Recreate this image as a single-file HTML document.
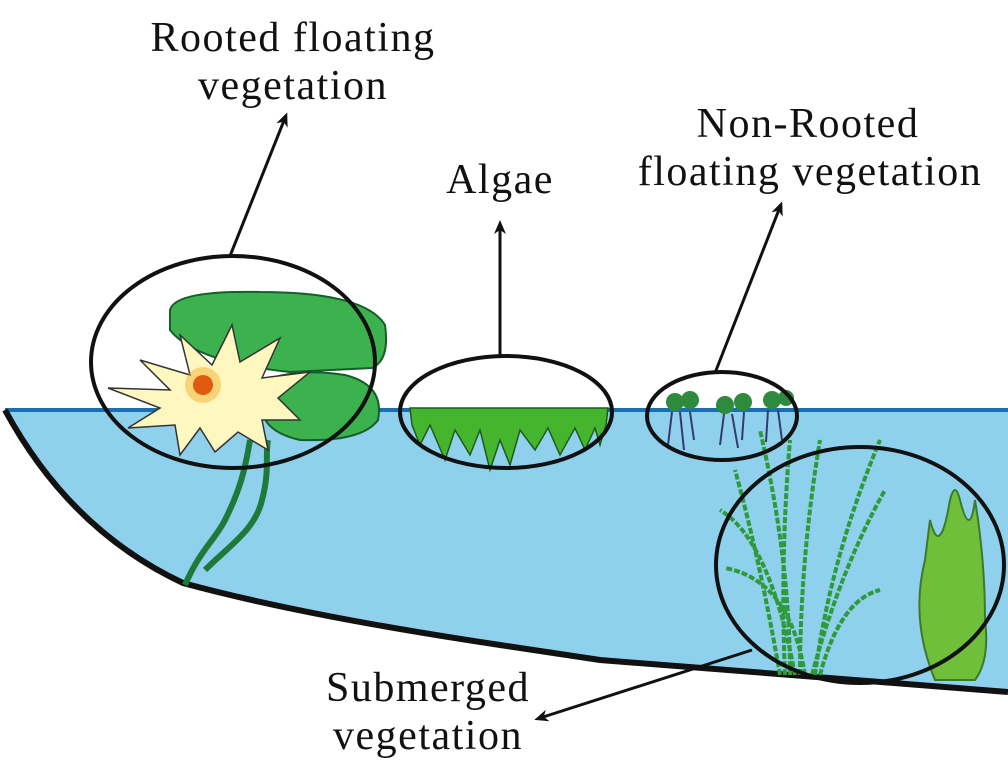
<!DOCTYPE html>
<html><head><meta charset="utf-8"><style>
html,body{margin:0;padding:0;background:#fff;}
svg{display:block}
text{font-family:"Liberation Serif",serif;font-size:42px;letter-spacing:1.5px;fill:#111;}
</style></head><body>
<svg width="1008" height="777" viewBox="0 0 1008 777" xmlns="http://www.w3.org/2000/svg">
<defs>
<marker id="ah" markerWidth="14" markerHeight="12" refX="8" refY="6" orient="auto" markerUnits="userSpaceOnUse">
<path d="M0,0 L14,6 L0,12 L4,6 Z" fill="#111"/></marker>
</defs>
<!-- water -->
<path d="M5,410 L1008,410 L1008,690 L600,660 L500,643 Q300,610 183,583 Q70,530 5,410 Z" fill="#8fd0ec"/>
<line x1="5" y1="410" x2="1008" y2="410" stroke="#1a6fb0" stroke-width="4"/>
<path d="M5,410 Q70,530 183,583 Q300,615 500,645 L600,660 L1008,692" fill="none" stroke="#111" stroke-width="6"/>
<!-- lily stems -->
<path d="M185,585 C200,550 215,540 225,520 C240,490 245,470 250,440" fill="none" stroke="#1f7a3a" stroke-width="6"/>
<path d="M205,570 C230,545 255,530 262,500 C270,470 265,455 268,440" fill="none" stroke="#1f7a3a" stroke-width="6"/>
<!-- lily pads -->
<path d="M170,310 Q175,290 260,292 Q365,292 385,325 Q390,360 372,368 L290,372 Q195,362 170,330 Z" fill="#3cb24e" stroke="#155e2a" stroke-width="2"/>
<path d="M265,380 Q300,368 345,375 Q385,385 378,420 Q362,442 300,440 Q265,432 262,410 Z" fill="#3cb24e" stroke="#155e2a" stroke-width="2"/>
<!-- flower -->
<g stroke="#333" stroke-width="1.5" fill="#fff7c0">
<path d="M108,388 L170,390 L140,360 L190,375 L180,335 L212,365 L232,325 L240,362 L280,338 L262,378 L310,372 L278,398 L300,420 L262,420 L268,450 L238,432 L215,452 L200,428 L180,455 L175,425 L128,428 L160,408 Z"/>
</g>
<circle cx="203" cy="385" r="18" fill="#f2b030" opacity="0.5"/>
<circle cx="203" cy="385" r="10" fill="#e05a10"/>
<!-- algae -->
<path d="M410,408 L608,408 L606,425 L600,445 L595,428 L585,450 L575,428 L560,455 L548,428 L535,450 L520,430 L510,465 L500,440 L490,470 L480,430 L470,455 L455,430 L445,460 L430,425 L420,445 L412,425 Z" fill="#46b52e" stroke="#1e5a1e" stroke-width="1.5"/>
<!-- floating plants -->
<g fill="#2e8b3e">
<circle cx="675" cy="402" r="9"/><circle cx="690" cy="400" r="9"/>
<circle cx="725" cy="405" r="9"/><circle cx="743" cy="402" r="9"/>
<circle cx="772" cy="400" r="9"/><circle cx="786" cy="398" r="8"/>
</g>
<g stroke="#333a70" stroke-width="2" fill="none">
<path d="M672,412 L668,445 M680,412 L684,450 M690,412 L694,440 M724,414 L720,445 M732,414 L738,448 M744,412 L742,440 M768,410 L766,442 M778,410 L782,440"/>
</g>
<!-- submerged grass -->
<g stroke="#2f9a3a" stroke-width="4" fill="none" stroke-dasharray="6 2">
<path d="M780,675 Q760,560 735,470"/><path d="M785,675 Q780,560 790,440"/>
<path d="M800,675 Q800,560 820,440"/><path d="M815,675 Q830,560 880,440"/>
<path d="M812,675 Q840,570 885,490"/><path d="M805,675 Q790,580 725,568"/>
<path d="M795,675 Q770,540 720,510"/><path d="M820,675 Q840,600 880,590"/>
<path d="M790,675 Q790,560 760,430"/>
</g>
<!-- right weed -->
<path d="M935,680 Q910,620 925,560 L930,520 Q940,560 950,500 Q955,480 960,500 Q970,540 975,500 Q985,560 985,620 Q990,660 975,680 Z" fill="#6fbf3a" stroke="#3a7a2a" stroke-width="2"/>
<!-- ellipses -->
<g fill="none" stroke="#111" stroke-width="4">
<ellipse cx="233" cy="362" rx="142" ry="106"/>
<ellipse cx="506" cy="412" rx="106" ry="56"/>
<ellipse cx="722" cy="416" rx="75" ry="44"/>
<ellipse cx="860" cy="565" rx="144" ry="118"/>
</g>
<!-- arrows -->
<g stroke="#111" stroke-width="3" fill="none">
<line x1="230" y1="256" x2="285" y2="118" marker-end="url(#ah)"/>
<line x1="500" y1="356" x2="500" y2="226" marker-end="url(#ah)"/>
<line x1="715" y1="373" x2="780" y2="207" marker-end="url(#ah)"/>
<line x1="752" y1="650" x2="540" y2="718" marker-end="url(#ah)"/>
</g>
<!-- labels -->
<g text-anchor="middle">
<text x="293" y="51">Rooted floating</text>
<text x="293" y="99">vegetation</text>
<text x="500" y="193">Algae</text>
<text x="808" y="137">Non-Rooted</text>
<text x="810" y="185">floating vegetation</text>
<text x="428" y="701">Submerged</text>
<text x="428" y="749">vegetation</text>
</g>
</svg>
</body></html>
